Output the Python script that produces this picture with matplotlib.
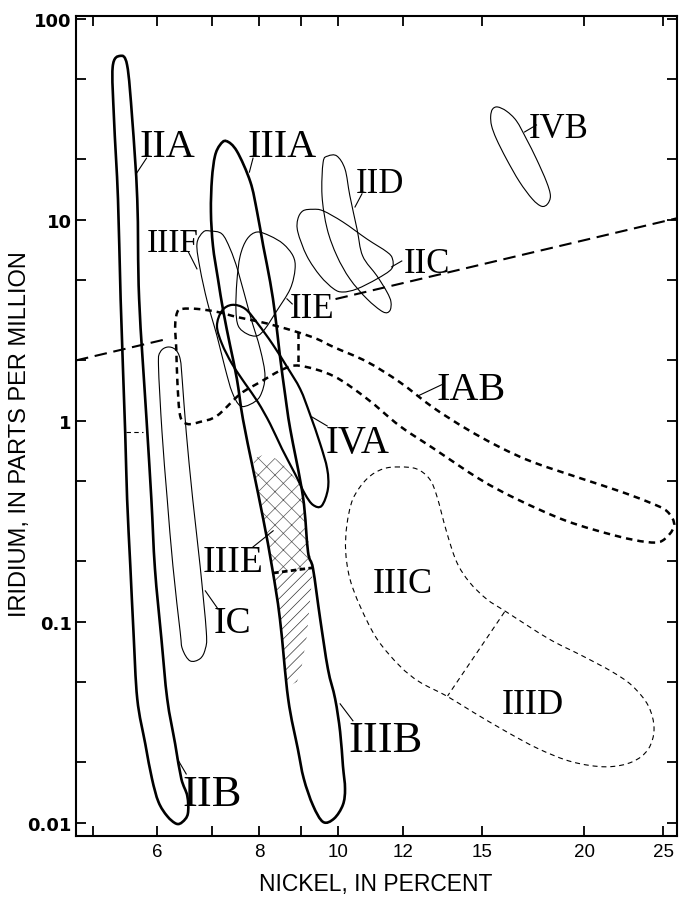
#!/usr/bin/env python3
"""
Iridium vs nickel fields of the iron-meteorite chemical groups (log-log).
"""

import numpy as np
import matplotlib
matplotlib.use('Agg')
import matplotlib.pyplot as plt
from matplotlib.path import Path
from matplotlib.patches import PathPatch, Polygon
from matplotlib.ticker import NullLocator, NullFormatter

# Group outlines, Ni in percent and Ir in ppm
IIAB_NI = [5.40, 5.51, 5.59, 5.67, 5.70, 5.82, 5.90, 5.96, 6.07, 6.17, 6.31, 6.42, 6.53, 6.54, 6.44, 6.33,
           6.17, 6.02, 5.91, 5.80, 5.67, 5.61, 5.56, 5.51, 5.48, 5.41, 5.37, 5.31, 5.29]
IIAB_IR = [65.5, 59.0, 31.8, 12.7, 4.05, 1.02, 0.409, 0.184, 0.0823, 0.0414, 0.0247, 0.0166, 0.0136, 0.0111,
           0.0101, 0.0099, 0.0108, 0.0127, 0.0166, 0.0247, 0.0414, 0.0891, 0.190, 0.409, 0.881, 4.05,
           12.7, 31.8, 57.7]

IIIAB_NI = [7.29, 7.51, 7.80, 7.95, 8.09, 8.25, 8.37, 8.48, 8.61, 8.73, 9.05, 9.18, 9.31, 9.50, 9.71, 9.91,
            10.05, 10.13, 10.19, 10.13, 9.88, 9.58, 9.31, 9.07, 8.92, 8.68, 8.48, 8.30, 8.09, 7.86, 7.64,
            7.51, 7.37, 7.23, 7.12, 7.02, 6.98, 7.00, 7.06, 7.16]
IIIAB_IR = [24.7, 22.0, 15.5, 11.0, 7.43, 4.92, 3.33, 2.11, 1.33, 0.912, 0.419, 0.223, 0.184, 0.1035,
            0.0583, 0.0414, 0.0284, 0.0192, 0.0148, 0.0123, 0.0105, 0.0101, 0.0122, 0.0166, 0.0233, 0.0414,
            0.1035, 0.184, 0.325, 0.577, 1.02, 1.62, 2.36, 3.49, 5.09, 7.43, 11.0, 16.0, 20.8, 23.6]

IVA_NI = [7.20, 7.41, 7.69, 7.97, 8.30, 8.65, 8.98, 9.23, 9.50, 9.69, 9.71, 9.54, 9.31, 9.10, 8.85, 8.53,
          8.25, 7.97, 7.69, 7.41, 7.20, 7.10]
IVA_IR = [3.53, 3.78, 3.61, 3.04, 2.42, 1.86, 1.44, 1.08, 0.769, 0.577, 0.459, 0.378, 0.382, 0.433, 0.545,
          0.726, 0.966, 1.24, 1.53, 1.92, 2.42, 2.97]

IIIF_NI = [6.97, 6.83, 6.71, 6.77, 6.91, 7.10, 7.27, 7.41, 7.58, 7.80, 8.02, 8.13, 8.02, 7.80, 7.54, 7.37, 7.20]
IIIF_IR = [8.81, 8.71, 7.60, 5.71, 3.91, 2.65, 1.81, 1.39, 1.19, 1.21, 1.33, 1.67, 2.28, 3.33, 5.51, 7.17, 8.52]

IIE_NI = [7.95, 7.73, 7.58, 7.51, 7.49, 7.54, 7.73, 7.95, 8.13, 8.39, 8.73, 8.85, 8.80, 8.56, 8.25]
IIE_IR = [8.71, 8.04, 6.62, 4.92, 3.61, 2.97, 2.71, 2.65, 2.87, 3.49, 4.54, 5.71, 6.62, 7.60, 8.32]

IID_NI = [9.71, 9.58, 9.55, 9.69, 9.96, 10.33, 10.84, 11.34, 11.56, 11.60, 11.47, 11.15, 10.71, 10.54,
          10.33, 10.19, 9.96]
IID_IR = [20.8, 19.4, 13.2, 9.02, 6.62, 5.09, 4.05, 3.49, 3.53, 3.91, 4.38, 5.27, 6.62, 9.02, 13.2, 17.9, 20.8]

IIC_NI = [9.31, 9.05, 8.92, 8.92, 9.15, 9.50, 9.87, 10.13, 10.54, 11.15, 11.62, 11.65, 11.47, 10.84, 10.13, 9.58]
IIC_IR = [11.3, 11.1, 10.1, 8.71, 6.62, 5.27, 4.54, 4.38, 4.54, 5.09, 5.71, 6.40, 6.93, 8.04, 9.77, 11.1]

IVB_NI = [15.45, 15.67, 16.07, 16.53, 17.00, 17.49, 17.99, 18.19, 18.04, 17.74, 17.29, 16.67, 16.07,
          15.62, 15.41, 15.37]
IVB_IR = [35.6, 36.5, 34.8, 31.1, 25.3, 20.1, 15.5, 13.2, 12.0, 11.7, 12.7, 15.5, 20.1, 25.3, 29.4, 32.9]

IC_NI = [6.17, 6.05, 6.02, 6.08, 6.17, 6.27, 6.40, 6.44, 6.58, 6.77, 6.87, 6.89, 6.77, 6.63, 6.51, 6.44,
         6.40, 6.31]
IC_IR = [2.33, 2.20, 1.88, 0.881, 0.409, 0.190, 0.0891, 0.0734, 0.0640, 0.0656, 0.0734, 0.0891, 0.190,
         0.409, 0.881, 1.56, 2.03, 2.27]

IAB_NI = [6.44, 6.71, 7.10, 7.51, 8.02, 8.39, 8.90, 9.41, 9.87, 10.84, 11.89, 13.05, 14.36, 15.74, 17.29,
          19.90, 22.04, 23.98, 25.28, 25.79, 24.93, 23.83, 21.90, 19.03, 16.53, 14.88, 13.05, 11.89, 10.84,
          9.87, 8.98, 8.56, 8.02, 7.58, 7.10, 6.77, 6.53, 6.40, 6.35, 6.33, 6.31, 6.35]
IAB_IR = [3.61, 3.61, 3.49, 3.29, 3.11, 2.97, 2.77, 2.56, 2.33, 1.97, 1.56, 1.17, 0.912, 0.743, 0.625,
          0.515, 0.449, 0.395, 0.355, 0.300, 0.253, 0.250, 0.268, 0.318, 0.409, 0.515, 0.734, 0.944, 1.29,
          1.67, 1.88, 1.81, 1.56, 1.36, 1.06, 0.989, 0.966, 1.06, 1.56, 2.28, 2.97, 3.49]

IIICD_NI = [11.89, 11.34, 10.84, 10.42, 10.24, 10.21, 10.33, 10.63, 11.15, 11.89, 12.57, 13.57, 14.60,
            16.07, 17.61, 19.35, 21.29, 22.91, 23.98, 24.37, 23.98, 22.91, 21.66, 19.90, 18.11, 16.07,
            15.19, 14.47, 13.96, 13.57, 13.20, 12.93, 12.47]
IIICD_IR = [0.590, 0.577, 0.515, 0.409, 0.300, 0.223, 0.164, 0.120, 0.0823, 0.0604, 0.0503, 0.0428,
            0.0357, 0.0284, 0.0233, 0.0201, 0.0190, 0.0201, 0.0233, 0.0294, 0.0382, 0.0481, 0.0564,
            0.0678, 0.0823, 0.112, 0.130, 0.158, 0.199, 0.281, 0.424, 0.515, 0.577]

# Hatched parts of the IIIAB field (IIIE stippled, lower part ruled)
IIIE_NI = [7.86, 8.09, 8.39, 8.68, 8.98, 9.05, 9.18, 9.28, 8.32, 8.18, 8.02]
IIIE_IR = [0.647, 0.678, 0.647, 0.577, 0.475, 0.409, 0.259, 0.188, 0.175, 0.244, 0.386]
RULED_NI = [8.32, 9.31, 9.23, 9.15, 9.02, 8.90, 8.65, 8.58, 8.48, 8.39]
RULED_IR = [0.175, 0.186, 0.126, 0.0851, 0.0604, 0.0503, 0.0475, 0.0656, 0.1035, 0.138]

# Dividers inside fields
IIA_IIB_SPLIT = ([5.50, 5.77], [0.881, 0.881])
IIIE_SPLIT = ([8.32, 9.31], [0.175, 0.186])
IAB_STEP = ([8.92, 8.92], [2.77, 1.88])
IIIC_IIID_SPLIT = ([15.98, 13.61], [0.112, 0.0428])

# Long dashed trend line, two visible pieces
TREND_NI = [[4.77, 6.20], [9.92, 26.0]]
TREND_IR = [[2.00, 2.57], [4.04, 10.2]]

# Group labels (centre Ni, baseline Ir) and leader lines
LABELS = ['IIA', 'IIIA', 'IIIF', 'IID', 'IIC', 'IIE', 'IAB', 'IVA', 'IIIE', 'IC', 'IIIC', 'IIID',
          'IIIB', 'IIB', 'IVB']
LABEL_NI = [6.17, 8.53, 6.26, 11.24, 12.83, 9.28, 14.56, 10.57, 7.43, 7.41, 11.99, 17.29, 11.43, 7.00, 18.63]
LABEL_IR = [20.8, 20.8, 7.01, 13.8, 5.51, 3.29, 1.29, 0.701, 0.179, 0.0891, 0.141, 0.0353, 0.0228,
            0.0123, 25.9]
LEADER_NI = [[5.82, 5.66], [7.86, 7.78], [6.55, 6.71], [10.69, 10.48], [11.96, 11.62], [8.65, 8.78],
             [12.51, 13.46], [9.28, 9.69], [7.86, 8.32], [6.87, 7.12], [10.05, 10.42], [16.91, 17.49],
             [6.35, 6.51]]
LEADER_IR = [[20.3, 17.1], [20.3, 17.3], [6.93, 5.71], [13.5, 11.6], [6.25, 5.84], [4.05, 3.82],
             [1.33, 1.53], [1.047, 0.944], [0.236, 0.284], [0.1427, 0.116], [0.0391, 0.0322],
             [27.4, 29.7], [0.0208, 0.0175]]

XTICKS = [5, 6, 7, 8, 9, 10, 12, 15, 20, 25]
XTICK_LABELS = ['', '6', '', '8', '', '10', '12', '15', '20', '25']
YTICKS = [0.01, 0.1, 1, 10, 100]
YTICK_LABELS = ['0.01', '0.1', '1', '10', '100']
YMINOR = [0.02, 0.05, 0.2, 0.5, 2, 5, 20, 50]

LABEL_SIZE = {'IIA': 29, 'IIIA': 29, 'IIIF': 24, 'IID': 25, 'IIC': 25, 'IIE': 25, 'IAB': 29,
              'IVA': 28, 'IIIE': 27, 'IC': 27, 'IIIC': 26, 'IIID': 26, 'IIIB': 32, 'IIB': 32, 'IVB': 25}


def closed_curve(ni, ir):
    """Closed Catmull-Rom curve through the points, built as Bezier segments in log space."""
    pts = np.column_stack([np.log10(ni), np.log10(ir)])
    n = len(pts)
    verts = [pts[0]]
    codes = [Path.MOVETO]
    for i in range(n):
        p0, p1, p2, p3 = pts[i - 1], pts[i], pts[(i + 1) % n], pts[(i + 2) % n]
        verts += [p1 + (p2 - p0) / 6.0, p2 - (p3 - p1) / 6.0, p2]
        codes += [Path.CURVE4] * 3
    return Path(10 ** np.array(verts), codes)


def draw_field(ax, ni, ir, lw, ls='-'):
    ax.add_patch(PathPatch(closed_curve(ni, ir), fill=False, edgecolor='black',
                           linewidth=lw, linestyle=ls, zorder=3))


def main():
    plt.rcParams['font.family'] = ['Liberation Sans', 'DejaVu Sans']
    plt.rcParams['hatch.linewidth'] = 0.5

    fig = plt.figure(figsize=(6.81, 9.03), dpi=100)
    fig.patch.set_facecolor('white')
    ax = fig.add_axes([76 / 681, 1 - 837 / 903, 601 / 681, 820 / 903])
    ax.set_xscale('log')
    ax.set_yscale('log')
    ax.set_xlim(4.77, 26.0)
    ax.set_ylim(0.0086, 103.5)

    # hatched parts first, so outlines sit on top
    ax.add_patch(Polygon(np.column_stack([IIIE_NI, IIIE_IR]), closed=True, fill=False,
                         hatch='xx', edgecolor='0.35', linewidth=0, zorder=1))
    ax.add_patch(Polygon(np.column_stack([RULED_NI, RULED_IR]), closed=True, fill=False,
                         hatch='///', edgecolor='0.2', linewidth=0, zorder=1))

    # heavy solid fields
    draw_field(ax, IIAB_NI, IIAB_IR, 1.9)
    draw_field(ax, IIIAB_NI, IIIAB_IR, 1.9)
    draw_field(ax, IVA_NI, IVA_IR, 1.6)
    # light solid fields
    for ni, ir in [(IIIF_NI, IIIF_IR), (IIE_NI, IIE_IR), (IID_NI, IID_IR),
                   (IIC_NI, IIC_IR), (IVB_NI, IVB_IR), (IC_NI, IC_IR)]:
        draw_field(ax, ni, ir, 0.8)
    # dashed fields
    draw_field(ax, IAB_NI, IAB_IR, 1.8, ls=(0, (2.6, 2.0)))
    draw_field(ax, IIICD_NI, IIICD_IR, 0.8, ls=(0, (4.5, 3.5)))

    ax.plot(*IAB_STEP, color='black', lw=1.8, ls=(0, (2.6, 2.0)), zorder=3)
    ax.plot(*IIIE_SPLIT, color='black', lw=2.0, ls=(0, (2.0, 1.2)), zorder=3)
    ax.plot(*IIIC_IIID_SPLIT, color='black', lw=0.8, ls=(0, (4.5, 3.5)), zorder=3)
    ax.plot(*IIA_IIB_SPLIT, color='black', lw=0.8, ls=(0, (4.0, 3.0)), zorder=3)

    for ni, ir in zip(TREND_NI, TREND_IR):
        ax.plot(ni, ir, color='black', lw=1.5, ls=(0, (6.0, 3.2)), zorder=2)

    for ni, ir in zip(LEADER_NI, LEADER_IR):
        ax.plot(ni, ir, color='black', lw=0.8, zorder=3)

    for name, ni, ir in zip(LABELS, LABEL_NI, LABEL_IR):
        ax.text(ni, ir, name, ha='center', va='baseline', fontsize=LABEL_SIZE[name],
                family='Liberation Serif', color='black', zorder=4)

    # axes styling
    ax.set_xticks(XTICKS, labels=XTICK_LABELS, fontsize=13.5, fontfamily='Liberation Sans')
    ax.xaxis.set_minor_locator(NullLocator())
    ax.set_yticks(YTICKS, labels=YTICK_LABELS, fontsize=13, fontweight='bold',
                  fontfamily='DejaVu Sans')
    ax.set_yticks(YMINOR, minor=True)
    ax.yaxis.set_minor_formatter(NullFormatter())
    ax.tick_params(which='both', direction='in', length=7, width=1.3,
                   top=True, right=True, color='black')
    ax.tick_params(axis='x', pad=5)
    ax.tick_params(axis='y', pad=3)
    for spine in ax.spines.values():
        spine.set_linewidth(1.5)

    fig.text(376 / 681, 1 - 885 / 903, 'NICKEL, IN PERCENT', ha='center', va='center',
             fontsize=16.5, family='Liberation Sans')
    fig.text(20 / 681, 1 - 434 / 903, 'IRIDIUM, IN PARTS PER MILLION', ha='center', va='center',
             rotation=90, fontsize=17, family='Liberation Sans')

    fig.savefig('out.png', dpi=100, facecolor='white')
    plt.close(fig)


if __name__ == '__main__':
    main()
